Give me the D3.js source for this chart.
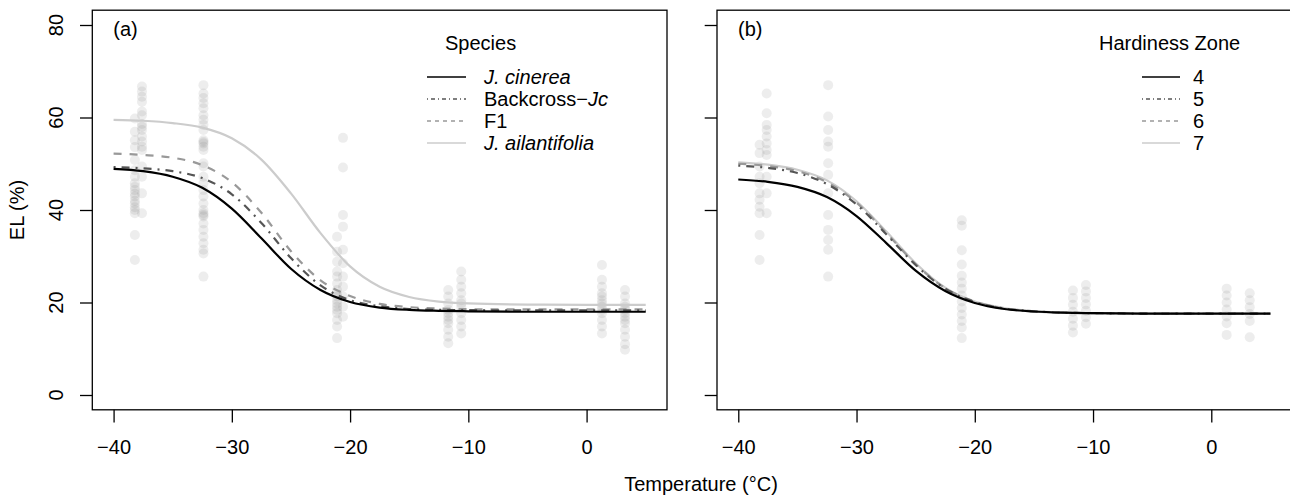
<!DOCTYPE html>
<html>
<head>
<meta charset="utf-8">
<script src="https://cdn.jsdelivr.net/npm/d3@7"></script>
<style>
body { margin: 0; background: #fff; }
svg { display: block; }
text { font-family: "Liberation Sans", Arial, sans-serif; font-size: 20px; fill: #000; }
</style>
</head>
<body>
<svg width="1290" height="499"></svg>
<script>
// fitted curves at these temperatures
var curveTemps = [-40, -37.5, -35, -32.5, -30, -27.5, -25, -22.5, -20, -17.5, -15, -12.5, -10, -5, 0, 5];

var cinerea      = [48.9, 48.4, 47.2, 44.8, 40.3, 33.9, 27.3, 22.7, 20.1, 18.9, 18.4, 18.2, 18.1, 18.0, 18.0, 18.0];
var backcross    = [49.3, 49.0, 48.4, 46.9, 43.4, 37.2, 29.6, 23.7, 20.5, 19.2, 18.6, 18.4, 18.35, 18.3, 18.3, 18.3];
var f1           = [52.2, 51.9, 51.3, 49.7, 46.0, 39.4, 31.1, 24.8, 21.4, 19.7, 19.0, 18.7, 18.55, 18.5, 18.5, 18.5];
var ailantifolia = [59.5, 59.3, 58.8, 57.8, 55.5, 50.9, 43.6, 35.0, 27.8, 23.4, 21.2, 20.2, 19.8, 19.55, 19.5, 19.5];

var zone4 = [46.6, 46.1, 45.0, 42.8, 38.7, 32.9, 26.9, 22.5, 19.9, 18.6, 18.05, 17.8, 17.7, 17.6, 17.6, 17.6];
var zone5 = [49.6, 49.1, 48.0, 45.6, 41.2, 34.8, 28.1, 23.0, 20.1, 18.7, 18.1, 17.8, 17.7, 17.6, 17.6, 17.6];
var zone6 = [50.0, 49.5, 48.4, 46.0, 41.6, 35.1, 28.3, 23.1, 20.2, 18.7, 18.1, 17.8, 17.7, 17.6, 17.6, 17.6];
var zone7 = [50.3, 49.8, 48.7, 46.4, 41.9, 35.4, 28.5, 23.2, 20.2, 18.8, 18.1, 17.8, 17.7, 17.6, 17.6, 17.6];

// raw measurements, one column of EL values per test temperature
var pointTempsA = [-38.2, -37.6, -32.4, -21.1, -20.6, -11.7, -10.6, 1.3, 3.25];
var pointsA = [
  [59.8, 56.9, 55.1, 53.6, 50.8, 48.6, 47.2, 45.8, 45.0, 44.3, 43.5, 42.9, 42.0, 41.4, 40.6, 40.0, 39.3, 34.6, 29.2],
  [66.7, 65.6, 64.5, 63.4, 61.3, 60.5, 58.6, 58.0, 57.3, 55.9, 54.8, 53.7, 53.0, 49.4, 47.2, 43.6, 39.3],
  [67.0, 65.2, 64.2, 63.1, 62.0, 60.5, 59.5, 58.4, 57.3, 55.1, 54.7, 54.4, 53.7, 53.0, 50.1, 49.4, 47.2, 45.8, 44.3,
   42.9, 41.4, 40.0, 39.3, 38.9, 38.6, 37.1, 35.7, 34.2, 32.8, 31.4, 30.6, 25.6],
  [34.2, 31.0, 28.8, 26.7, 25.6, 24.1, 22.7, 21.8, 21.3, 20.5, 19.8, 19.1, 18.4, 17.7, 16.2, 14.8, 12.3],
  [55.6, 49.2, 38.9, 36.4, 31.4, 28.5, 25.6, 23.4, 21.3, 19.1, 16.9],
  [22.7, 21.3, 19.8, 18.4, 17.7, 16.9, 16.2, 15.5, 14.1, 12.6, 11.2],
  [26.7, 24.9, 23.4, 22.0, 20.5, 19.8, 19.1, 17.7, 16.2, 14.8, 13.3],
  [28.1, 24.9, 23.4, 22.0, 21.3, 20.5, 19.8, 19.1, 18.4, 17.7, 16.2, 14.8, 13.3],
  [22.7, 21.3, 19.8, 19.1, 18.4, 17.7, 16.9, 16.2, 15.5, 14.1, 12.6, 11.0, 9.8]
];

var pointTempsB = [-38.2, -37.6, -32.4, -21.1, -11.7, -10.6, 1.3, 3.25];
var pointsB = [
  [54.1, 52.3, 49.4, 47.2, 45.8, 43.6, 42.2, 40.7, 39.3, 34.6, 29.2],
  [65.2, 60.9, 58.4, 57.3, 55.9, 54.4, 53.0, 51.9, 47.2, 43.6, 39.3],
  [67.0, 60.2, 57.3, 54.8, 53.7, 50.1, 47.6, 43.6, 38.9, 35.7, 33.5, 31.4, 25.6],
  [37.8, 36.6, 31.3, 28.2, 25.8, 24.3, 23.0, 21.5, 20.2, 18.8, 17.4, 16.0, 14.6, 12.3],
  [22.6, 21.0, 19.5, 18.0, 16.5, 15.0, 13.5],
  [23.8, 22.4, 21.0, 19.6, 18.2, 16.8, 15.4],
  [23.0, 21.5, 20.0, 18.5, 17.0, 15.5, 13.0],
  [22.0, 20.5, 19.0, 17.5, 16.0, 12.5]
];

var xTicks = [-40, -30, -20, -10, 0];
var yTicks = [0, 20, 40, 60, 80];

var speciesLabels = [["J. cinerea", null], ["Backcross\u2212", "Jc"], ["F1", null], ["J. ailantifolia", null]];
var speciesItalic = [true, false, false, true];
var zoneLabels = ["4", "5", "6", "7"];

// line styles: index matches legend order
var styles = [
  { color: "#000000", dash: null,        ldash: null },
  { color: "#555555", dash: "2,6,8,6",   ldash: "1,3,4,3" },
  { color: "#999999", dash: "8,8",       ldash: "4,4" },
  { color: "#cccccc", dash: null,        ldash: null }
];

var svg = d3.select("svg");

function drawPanel(left, right, tag, pTemps, pVals, series, showYLabels) {
  var x = d3.scaleLinear().domain([-41.8, 6.8]).range([left, right]);
  var y = d3.scaleLinear().domain([-3.2, 83.2]).range([409.8, 10.2]);
  var g = svg.append("g");

  // points
  pTemps.forEach(function(t, i) {
    g.selectAll(null)
      .data(pVals[i])
      .enter().append("circle")
        .attr("cx", x(t))
        .attr("cy", function(d) { return y(d); })
        .attr("r", 5)
        .style("fill", "#7f7f7f")
        .style("fill-opacity", 0.14);
  });

  var line = d3.line()
    .x(function(d, i) { return x(curveTemps[i]); })
    .y(function(d) { return y(d); })
    .curve(d3.curveMonotoneX);

  // draw light ones first, black on top
  for (var k = series.length - 1; k >= 0; k--) {
    g.append("path")
      .attr("d", line(series[k]))
      .style("fill", "none")
      .style("stroke", styles[k].color)
      .style("stroke-width", 2.2)
      .style("stroke-dasharray", styles[k].dash);
  }

  // box
  g.append("rect")
    .attr("x", left).attr("y", 10.2)
    .attr("width", right - left).attr("height", 409.8 - 10.2)
    .style("fill", "none").style("stroke", "#000").style("stroke-width", 1.3);

  var xa = g.append("g")
    .attr("transform", "translate(0,409.8)")
    .call(d3.axisBottom(x).tickValues(xTicks).tickSize(12.7).tickPadding(17));
  xa.select(".domain").remove();
  xa.selectAll("line").style("stroke-width", 1.3);
  xa.selectAll("text").style("font-size", "20px").style("font-family", "Liberation Sans, Arial, sans-serif");

  var ya = g.append("g")
    .attr("transform", "translate(" + left + ",0)")
    .call(d3.axisLeft(y).tickValues(yTicks).tickSize(12.3).tickFormat(""));
  ya.select(".domain").remove();
  ya.selectAll("line").style("stroke-width", 1.3);

  if (showYLabels) {
    g.selectAll(null)
      .data(yTicks)
      .enter().append("text")
        .attr("transform", function(d) { return "translate(" + (left - 29.5) + "," + y(d) + ") rotate(-90)"; })
        .attr("text-anchor", "middle")
        .text(function(d) { return d; });
  }

  g.append("text")
    .attr("x", left + 21)
    .attr("y", 36)
    .text(tag);

  return g;
}

var gA = drawPanel(92.3, 667, "(a)", pointTempsA, pointsA, [cinerea, backcross, f1, ailantifolia], true);
var gB = drawPanel(717, 1291.7, "(b)", pointTempsB, pointsB, [zone4, zone5, zone6, zone7], false);

var rowY = [77, 99, 121, 143];

// legend (a)
gA.append("text").attr("x", 445).attr("y", 50).text("Species");
rowY.forEach(function(ry, i) {
  gA.append("line")
    .attr("x1", 427).attr("x2", 466).attr("y1", ry).attr("y2", ry)
    .style("stroke", styles[i].color)
    .style("stroke-width", 1.3)
    .style("stroke-dasharray", styles[i].ldash);
  var t = gA.append("text").attr("x", 484).attr("y", ry + 7);
  t.append("tspan")
    .style("font-style", speciesItalic[i] ? "italic" : "normal")
    .text(speciesLabels[i][0]);
  if (speciesLabels[i][1]) {
    t.append("tspan").style("font-style", "italic").text(speciesLabels[i][1]);
  }
});

// legend (b)
gB.append("text").attr("x", 1099).attr("y", 50).text("Hardiness Zone");
rowY.forEach(function(ry, i) {
  gB.append("line")
    .attr("x1", 1142).attr("x2", 1180).attr("y1", ry).attr("y2", ry)
    .style("stroke", styles[i].color)
    .style("stroke-width", 1.3)
    .style("stroke-dasharray", styles[i].ldash);
  gB.append("text").attr("x", 1193).attr("y", ry + 7).text(zoneLabels[i]);
});

// axis titles
svg.append("text")
  .attr("transform", "translate(24,210) rotate(-90)")
  .attr("text-anchor", "middle")
  .text("EL (%)");

svg.append("text")
  .attr("x", 701)
  .attr("y", 491)
  .attr("text-anchor", "middle")
  .text("Temperature (\u00b0C)");
</script>
</body>
</html>
